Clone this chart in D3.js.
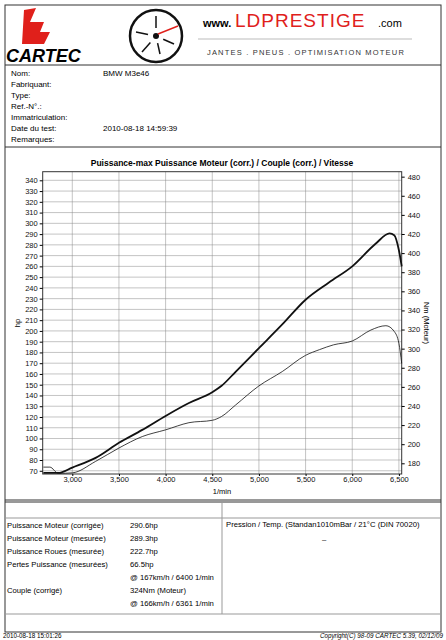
<!DOCTYPE html>
<html><head><meta charset="utf-8"><script src="https://cdn.jsdelivr.net/npm/d3@7"></script>
<style>body{margin:0;background:#fff}svg{font-family:"Liberation Sans",Arial,sans-serif}</style></head>
<body><svg id="c" width="446" height="640"></svg>
<script>
const rpm = [2690,2760,2850,3000,3250,3500,3750,4000,4250,4500,4600,4750,5000,5250,5500,5750,6000,6250,6400,6450,6500,6530];
const powerHp = [68,68,68,73,82,96,108,121,133,143,149,162,184,206,229,245,260,281,290.6,289,275,260];
const torqueRpm = [2690,2760,2850,3000,3250,3500,3750,4000,4250,4500,4600,4750,5000,5250,5500,5650,5800,6000,6200,6361,6450,6500,6530];
const torqueNm = [176,176,169.5,170,182,196,208,215,222.5,225,229,241,261,276,293,299,304,308,319.5,324,318,305.5,284.5];
const xTicks = [3000,3500,4000,4500,5000,5500,6000,6500];
const hpTicks = d3.range(70,341,10);
const nmTicks = d3.range(180,481,20);
const infoLabels = ["Nom:","Fabriquant:","Type:","Ref.-N°.:","Immatriculation:","Date du test:","Remarques:"];
const infoValues = ["BMW M3e46","","","","","2010-08-18 14:59:39",""];
const resLabels = ["Puissance Moteur (corrigée)","Puissance Moteur (mesurée)","Puissance Roues (mesurée)","Pertes Puissance (mesurées)","","Couple (corrigé)",""];
const resValues = ["290.6hp","289.3hp","222.7hp","66.5hp","@ 167km/h / 6400 1/min","324Nm (Moteur)","@ 166km/h / 6361 1/min"];

const svg = d3.select("#c");
const L=42.7,R=401.7,T=171.7,B=474;
const x = d3.scaleLinear().domain([2683,6530]).range([L,R]);
const y = d3.scaleLinear().domain([67,348]).range([B,T]);
const y2 = d3.scaleLinear().domain([168.8,485.2]).range([B,T]);

svg.append("rect").attr("x",5).attr("y",5).attr("width",436).attr("height",627).attr("fill","none").attr("stroke","#333").attr("stroke-width",1);
const g0=svg.append("g");
g0.append("path").attr("d","M24 10 L36 8 L30 22 L44 22 L40 32 L50 32 L44 44 L22 44 Z").attr("fill","#e0201b");
g0.append("text").attr("x",6).attr("y",62).attr("font-size",18).attr("font-weight","bold").attr("font-style","italic").text("CARTEC");
g0.append("circle").attr("cx",156).attr("cy",36).attr("r",26).attr("fill","none").attr("stroke","#111").attr("stroke-width",2.5);
g0.append("circle").attr("cx",156).attr("cy",36).attr("r",3).attr("fill","#111");
[[-1,-0.2],[-0.7,0.8],[0.2,0.9],[0.9,0.4],[0,-1]].forEach(d=>g0.append("line").attr("x1",156+d[0]*8).attr("y1",36+d[1]*8).attr("x2",156+d[0]*20).attr("y2",36+d[1]*20).attr("stroke","#111").attr("stroke-width",1.5));
g0.append("line").attr("x1",158).attr("y1",34).attr("x2",178).attr("y2",26).attr("stroke","#e0201b").attr("stroke-width",1.5);
g0.append("text").attr("x",203).attr("y",27).attr("font-size",11).attr("font-weight","bold").text("www.");
g0.append("text").attr("x",235).attr("y",27).attr("font-size",19).attr("fill","#e0201b").attr("letter-spacing",1).text("LDPRESTIGE");
g0.append("text").attr("x",378).attr("y",27).attr("font-size",11).text(".com");
g0.append("line").attr("x1",198).attr("x2",412).attr("y1",39).attr("y2",39).attr("stroke","#bbb");
g0.append("text").attr("x",306).attr("y",55).attr("font-size",7.5).attr("text-anchor","middle").attr("letter-spacing",1.2).attr("fill","#333").text("JANTES . PNEUS . OPTIMISATION MOTEUR");
svg.append("line").attr("x1",5).attr("x2",441).attr("y1",65).attr("y2",65).attr("stroke","#333");
infoLabels.forEach((t,i)=>{
  svg.append("text").attr("x",11).attr("y",76+i*11).attr("font-size",8).text(t);
  svg.append("text").attr("x",103).attr("y",76+i*11).attr("font-size",8).text(infoValues[i]);
});
svg.append("line").attr("x1",5).attr("x2",441).attr("y1",147).attr("y2",147).attr("stroke","#333");

svg.append("text").attr("x",222).attr("y",166).attr("text-anchor","middle").attr("font-size",8.5).attr("font-weight","bold").text("Puissance-max Puissance Moteur (corr.) / Couple (corr.) / Vitesse");
const grid=svg.append("g").attr("stroke","#888").attr("stroke-width",0.5);
hpTicks.forEach(v=>grid.append("line").attr("x1",L).attr("x2",R).attr("y1",y(v)).attr("y2",y(v)));
xTicks.forEach(v=>grid.append("line").attr("y1",T).attr("y2",B).attr("x1",x(v)).attr("x2",x(v)));
svg.append("rect").attr("x",L).attr("y",T).attr("width",R-L).attr("height",B-T).attr("fill","none").attr("stroke","#333");
const ax=svg.append("g").attr("transform",`translate(0,${B})`).call(d3.axisBottom(x).tickValues(xTicks).tickSize(2).tickPadding(1).tickFormat(d3.format(",")));
const ay=svg.append("g").attr("transform",`translate(${L},0)`).call(d3.axisLeft(y).tickValues(hpTicks).tickSize(3).tickFormat(d3.format("d")));
const ay2=svg.append("g").attr("transform",`translate(${R},0)`).call(d3.axisRight(y2).tickValues(nmTicks).tickSize(3));
[ax,ay,ay2].forEach(a=>{a.select(".domain").remove();a.selectAll("text").attr("font-size",7.5).attr("fill","#111").attr("font-family","Liberation Sans, Arial");});
ay.selectAll("text").attr("dx",1);
svg.append("text").attr("x",222).attr("y",494).attr("text-anchor","middle").attr("font-size",7.5).text("1/min");
svg.append("text").attr("transform",`translate(20,323) rotate(-90)`).attr("text-anchor","middle").attr("font-size",7.5).text("hp");
svg.append("text").attr("transform",`translate(424,323) rotate(90)`).attr("text-anchor","middle").attr("font-size",7.5).text("Nm (Moteur)");
const line=d3.line().curve(d3.curveMonotoneX);
svg.append("path").attr("d",line(rpm.map((r,i)=>[x(r),y(powerHp[i])]))).attr("fill","none").attr("stroke","#111").attr("stroke-width",1.8);
svg.append("path").attr("d",line(torqueRpm.map((r,i)=>[x(r),y2(torqueNm[i])]))).attr("fill","none").attr("stroke","#111").attr("stroke-width",0.8);

svg.append("line").attr("x1",5).attr("x2",441).attr("y1",500).attr("y2",500).attr("stroke","#333");
svg.append("line").attr("x1",5).attr("x2",441).attr("y1",502).attr("y2",502).attr("stroke","#333");
svg.append("line").attr("x1",5).attr("x2",441).attr("y1",518).attr("y2",518).attr("stroke","#999");
svg.append("line").attr("x1",5).attr("x2",441).attr("y1",614).attr("y2",614).attr("stroke","#999");
svg.append("line").attr("x1",222).attr("x2",222).attr("y1",502).attr("y2",614).attr("stroke","#999");
resLabels.forEach((t,i)=>{
  svg.append("text").attr("x",7).attr("y",528+i*13.05).attr("font-size",7.7).text(t);
  svg.append("text").attr("x",130).attr("y",528+i*13.05).attr("font-size",7.7).text(resValues[i]);
});
svg.append("text").attr("x",226).attr("y",527).attr("font-size",7.7).text("Pression / Temp. (Standan1010mBar / 21°C   (DIN 70020)");
svg.append("text").attr("x",322).attr("y",542).attr("font-size",7.7).text("–");
svg.append("text").attr("x",3).attr("y",638).attr("font-size",6.3).text("2010-08-18 15:01:26");
svg.append("text").attr("x",443).attr("y",638).attr("font-size",6.3).attr("text-anchor","end").attr("font-style","italic").text("Copyright(C) 98-09 CARTEC 5.39, 02/12/09");
</script></body></html>
